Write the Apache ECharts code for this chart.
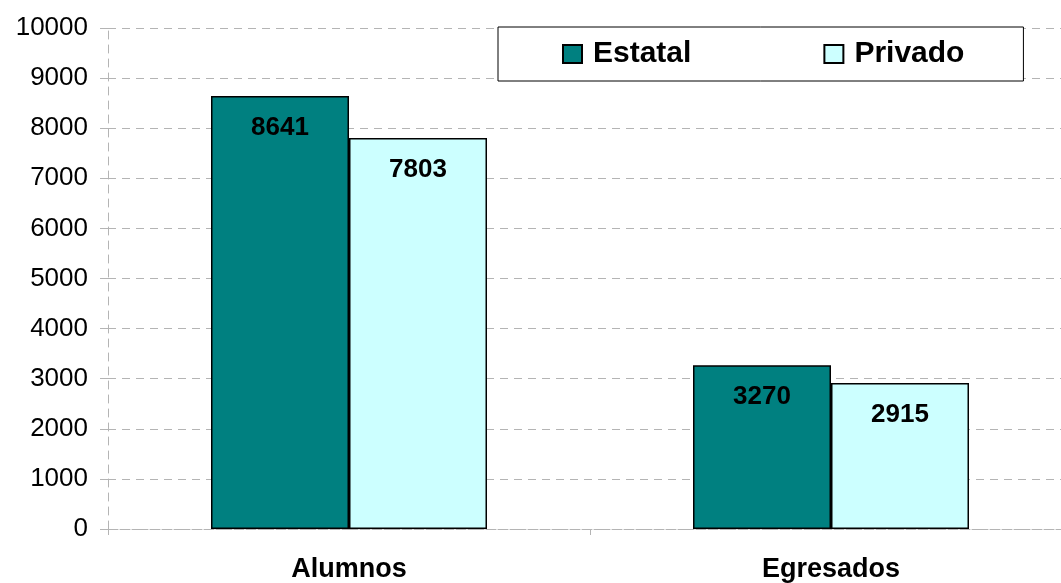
<!DOCTYPE html>
<html>
<head>
<meta charset="utf-8">
<script src="https://cdn.jsdelivr.net/npm/echarts@6/dist/echarts.min.js"></script>
<style>
  html, body { margin: 0; padding: 0; background: #fff; }
  #main { width: 1061px; height: 583px; }
</style>
</head>
<body>
<div id="main"></div>
<script>
  // datos
  var categorias = ['Alumnos', 'Egresados'];
  var estatal = [8641, 3270];
  var privado = [7803, 2915];

  var fuente = '"Liberation Sans", Arial, sans-serif';
  var gris = '#b4b4b4';

  var myChart = echarts.init(document.getElementById('main'));
  var etiqueta = {
    show: true,
    position: 'insideTop',
    distance: 19,
    color: '#000',
    fontFamily: fuente,
    fontWeight: 'bold',
    fontSize: 26
  };
  var option = {
    backgroundColor: '#fff',
    animation: false,
    grid: { left: 108, top: 28, bottom: 54, width: 964, outerBoundsMode: 'none', containLabel: false },
    legend: {
      data: ['Estatal', 'Privado'],
      left: 498,
      top: 27,
      padding: [12, 59, 12, 64],
      itemGap: 132,
      itemWidth: 19,
      itemHeight: 18,
      icon: 'rect',
      backgroundColor: '#fff',
      borderColor: '#000',
      borderWidth: 1,
      borderRadius: 0,
      textStyle: { fontFamily: fuente, fontWeight: 'bold', fontSize: 30, color: '#000', padding: [0, 0, 0, 6] }
    },
    xAxis: {
      type: 'category',
      data: categorias,
      axisLine: { show: true, lineStyle: { color: gris, type: 'dashed' } },
      axisTick: { show: true, length: 6, lineStyle: { color: gris } },
      axisLabel: { margin: 27, color: '#000', fontFamily: fuente, fontWeight: 'bold', fontSize: 27 }
    },
    yAxis: {
      type: 'value',
      min: 0,
      max: 10000,
      interval: 1000,
      axisLine: { show: true, lineStyle: { color: gris, type: [8, 6] } },
      axisTick: { show: true, length: 8, lineStyle: { color: gris } },
      splitLine: { lineStyle: { color: gris, type: [8, 6] } },
      axisLabel: {
        margin: 20, color: '#000', fontFamily: fuente, fontSize: 26,
        formatter: function (v) { return String(v); }
      }
    },
    series: [
      {
        name: 'Estatal',
        type: 'bar',
        data: estatal,
        barWidth: 138,
        barGap: 0,
        itemStyle: { color: '#008080', borderColor: '#000', borderWidth: 1.5 },
        label: etiqueta
      },
      {
        name: 'Privado',
        type: 'bar',
        data: privado,
        barWidth: 138,
        barGap: 0,
        itemStyle: { color: '#ccffff', borderColor: '#000', borderWidth: 1.5 },
        label: etiqueta
      }
    ]
  };
  myChart.setOption(option, true);
</script>
</body>
</html>
